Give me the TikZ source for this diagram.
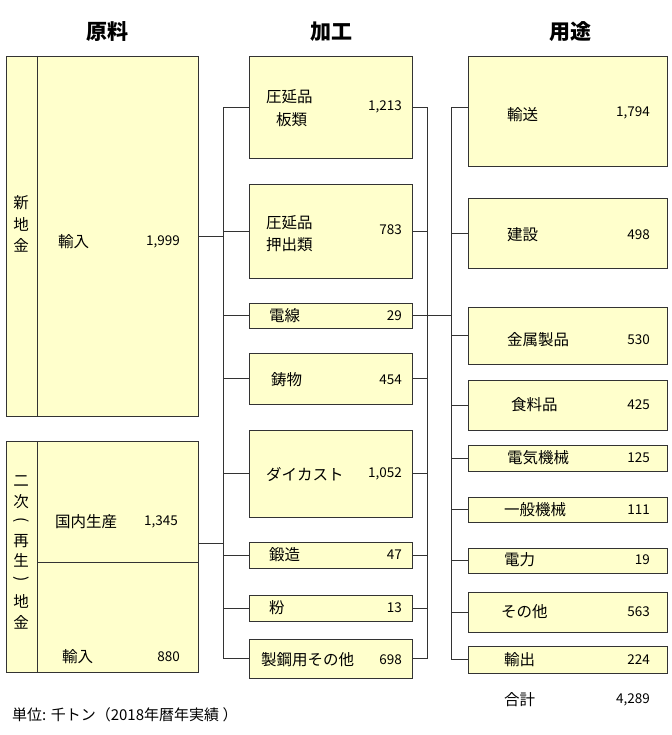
\documentclass[tikz,border=0pt]{standalone}
\usepackage{fontspec}
\setmainfont{Noto Sans CJK JP}
\definecolor{boxfill}{HTML}{FFFFCC}
\definecolor{edge}{HTML}{333333}
\begin{document}
\begin{tikzpicture}[x=1pt,y=-1pt,
  box/.style={draw=edge, line width=0.9pt, fill=boxfill, inner sep=0pt},
  conn/.style={line width=0.9pt, draw=edge},
  lbl/.style={font=\fontsize{15.5}{17}\selectfont, inner sep=0pt, anchor=west},
  num/.style={font=\fontsize{13.5}{16}\selectfont, inner sep=0pt, anchor=east},
  vch/.style={font=\fontsize{15.5}{16}\selectfont, inner sep=0pt},
  hdr/.style={font=\fontsize{21}{24}\selectfont\bfseries, inner sep=0pt}]
\useasboundingbox[fill=white] (0,0) rectangle (671,735);

% headers
\node[hdr] (h1) at (107,32) {原料};
\node[hdr] (h2) at (331,32) {加工};
\node[hdr] (h3) at (570,32) {用途};

% left column
\node[box, minimum width=192pt, minimum height=360pt] (L1) at (102,236) {};
\draw[conn] (37,56) -- (37,416);
\node[box, minimum width=192pt, minimum height=231pt] (L2) at (102,556.5) {};
\draw[conn] (37,441) -- (37,672);
\draw[conn] (37,562) -- (198,562);

\foreach \c [count=\i] in {新,地,金}
  \node[vch] (va\i) at (21,{182+21*\i}) {\c};
\foreach \c/\yy [count=\i] in {二/481,次/502,再/541,生/560,地/601,金/622}
  \node[vch] (vb\i) at (21,\yy) {\c};
\node[vch, rotate=-90] (vp1) at (21,520) {(};
\node[vch, rotate=-90] (vp2) at (21,579) {)};

\node[lbl] (t1) at (58,242) {輸入};
\node[num] (n1) at (180,242) {1,999};
\node[lbl] (t2) at (55,522) {国内生産};
\node[num] (n2) at (178,522) {1,345};
\node[lbl] (t3) at (62,657) {輸入};
\node[num] (n3) at (180,657) {880};

% middle column
\node[box, minimum width=163pt, minimum height=102pt] (m1) at (330.5,107) {};
\node[box, minimum width=163pt, minimum height=94pt] (m2) at (330.5,231) {};
\node[box, minimum width=163pt, minimum height=25pt] (m3) at (330.5,315.5) {};
\node[box, minimum width=163pt, minimum height=51pt] (m4) at (330.5,378.5) {};
\node[box, minimum width=163pt, minimum height=87pt] (m5) at (330.5,473.5) {};
\node[box, minimum width=163pt, minimum height=26pt] (m6) at (330.5,555) {};
\node[box, minimum width=163pt, minimum height=26pt] (m7) at (330.5,608) {};
\node[box, minimum width=163pt, minimum height=39pt] (m8) at (330.5,658.5) {};

\node[lbl] (mt1a) at (266,97) {圧延品};
\node[lbl] (mt1b) at (276,120) {板類};
\node[num] (mn1) at (402,107) {1,213};
\node[lbl] (mt2a) at (266,223) {圧延品};
\node[lbl] (mt2b) at (266,245) {押出類};
\node[num] (mn2) at (402,230) {783};
\node[lbl] (mt3) at (269,316) {電線};
\node[num] (mn3) at (402,316) {29};
\node[lbl] (mt4) at (271,380) {鋳物};
\node[num] (mn4) at (402,380) {454};
\node[lbl] (mt5) at (266,474) {ダイカスト};
\node[num] (mn5) at (402,474) {1,052};
\node[lbl] (mt6) at (269,555) {鍛造};
\node[num] (mn6) at (402,555) {47};
\node[lbl] (mt7) at (269,608) {粉};
\node[num] (mn7) at (402,608) {13};
\node[lbl] (mt8) at (261,660) {製鋼用その他};
\node[num] (mn8) at (402,660) {698};

% right column
\node[box, minimum width=199pt, minimum height=110pt] (r1) at (567.5,111) {};
\node[box, minimum width=199pt, minimum height=70pt] (r2) at (567.5,233) {};
\node[box, minimum width=199pt, minimum height=57pt] (r3) at (567.5,335.5) {};
\node[box, minimum width=199pt, minimum height=50pt] (r4) at (567.5,405) {};
\node[box, minimum width=199pt, minimum height=26pt] (r5) at (567.5,458) {};
\node[box, minimum width=199pt, minimum height=25pt] (r6) at (567.5,509.5) {};
\node[box, minimum width=199pt, minimum height=25pt] (r7) at (567.5,560.5) {};
\node[box, minimum width=199pt, minimum height=40pt] (r8) at (567.5,612) {};
\node[box, minimum width=199pt, minimum height=27pt] (r9) at (567.5,659.5) {};

\node[lbl] (rt1) at (507,115) {輸送};
\node[num] (rn1) at (650,113) {1,794};
\node[lbl] (rt2) at (507,235) {建設};
\node[num] (rn2) at (650,235) {498};
\node[lbl] (rt3) at (507,340) {金属製品};
\node[num] (rn3) at (650,340) {530};
\node[lbl] (rt4) at (511,405) {食料品};
\node[num] (rn4) at (650,405) {425};
\node[lbl] (rt5) at (507,458) {電気機械};
\node[num] (rn5) at (650,458) {125};
\node[lbl] (rt6) at (504,510) {一般機械};
\node[num] (rn6) at (650,510) {111};
\node[lbl] (rt7) at (504,560) {電力};
\node[num] (rn7) at (650,560) {19};
\node[lbl] (rt8) at (501,612) {その他};
\node[num] (rn8) at (650,612) {563};
\node[lbl] (rt9) at (504,660) {輸出};
\node[num] (rn9) at (650,660) {224};
\node[lbl] (tot) at (504,700) {合計};
\node[num] (totn) at (650,700) {4,289};

% footer
\node[lbl, font=\fontsize{15}{17}\selectfont] (foot) at (12,715) {単位: 千トン（2018年暦年実績 ）};

% connectors
\coordinate (lb) at (223,0);
\coordinate (rb) at (427,0);
\coordinate (ub) at (451,0);
\coordinate (l2out) at (198,543);
\draw[conn] (m1.west) -- (m1.west -| lb) -- (m8.west -| lb) -- (m8.west);
\foreach \k in {2,...,7} \draw[conn] (m\k.west) -- (m\k.west -| lb);
\draw[conn] (L1.east) -- (L1.east -| lb);
\draw[conn] (l2out) -- (l2out -| lb);
\draw[conn] (m1.east) -- (m1.east -| rb) -- (m8.east -| rb) -- (m8.east);
\foreach \k in {2,...,7} \draw[conn] (m\k.east) -- (m\k.east -| rb);
\draw[conn] (m3.east -| rb) -- (m3.east -| ub);
\draw[conn] (r1.west |- m1.west) -- (m1.west -| ub) -- (r9.west -| ub) -- (r9.west);
\foreach \k in {2,...,8} \draw[conn] (r\k.west) -- (r\k.west -| ub);
\end{tikzpicture}
\end{document}
